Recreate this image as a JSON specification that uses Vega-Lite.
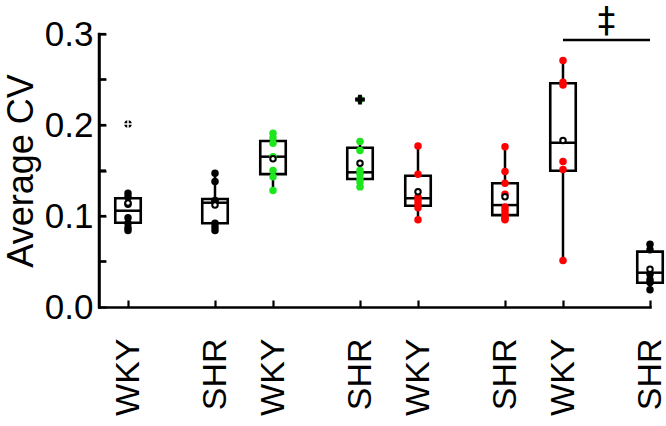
{
  "$schema": "https://vega.github.io/schema/vega-lite/v6.json",
  "width": 551,
  "height": 273,
  "autosize": "none",
  "padding": {"left": 99, "top": 34, "right": 16, "bottom": 119},
  "config": {
    "view": {"stroke": null},
    "font": "Liberation Sans",
    "axis": {
      "grid": false,
      "labelFont": "Liberation Sans",
      "labelFontSize": 35,
      "labelColor": "black",
      "titleFont": "Liberation Sans",
      "titleFontSize": 36,
      "titleFontWeight": "normal",
      "titleColor": "black",
      "domainColor": "black",
      "domainWidth": 2.5,
      "tickColor": "black",
      "tickWidth": 2.2
    },
    "axisX": {"tickSize": -7, "domainCap": "square"},
    "axisY": {"tickSize": -7, "domainCap": "square"}
  },
  "resolve": {"axis": {"y": "independent"}},
  "datasets": {
    "boxes": [
      {"cat": "WKY-1", "q1": 0.0926, "median": 0.1058, "q3": 0.1195, "lo": 0.0838, "hi": 0.125, "mean": 0.1144},
      {"cat": "SHR-1", "q1": 0.092, "median": 0.1146, "q3": 0.1187, "lo": 0.0835, "hi": 0.147, "mean": 0.112},
      {"cat": "WKY-2", "q1": 0.146, "median": 0.1652, "q3": 0.1824, "lo": 0.128, "hi": 0.191, "mean": 0.163},
      {"cat": "SHR-2", "q1": 0.1407, "median": 0.148, "q3": 0.175, "lo": 0.132, "hi": 0.1817, "mean": 0.158},
      {"cat": "WKY-3", "q1": 0.1113, "median": 0.1195, "q3": 0.1443, "lo": 0.0956, "hi": 0.177, "mean": 0.1267},
      {"cat": "SHR-3", "q1": 0.101, "median": 0.112, "q3": 0.136, "lo": 0.0956, "hi": 0.176, "mean": 0.1212},
      {"cat": "WKY-4", "q1": 0.1498, "median": 0.1805, "q3": 0.2458, "lo": 0.0509, "hi": 0.2707, "mean": 0.1829},
      {"cat": "SHR-4", "q1": 0.0267, "median": 0.0377, "q3": 0.0608, "lo": 0.0187, "hi": 0.0689, "mean": 0.0414}
    ],
    "points": [
      {"cat": "WKY-1", "v": 0.125}, {"cat": "WKY-1", "v": 0.121}, {"cat": "WKY-1", "v": 0.113}, {"cat": "WKY-1", "v": 0.098},
      {"cat": "WKY-1", "v": 0.092}, {"cat": "WKY-1", "v": 0.087}, {"cat": "WKY-1", "v": 0.084}, {"cat": "WKY-1", "v": 0.201},
      {"cat": "SHR-1", "v": 0.147}, {"cat": "SHR-1", "v": 0.138}, {"cat": "SHR-1", "v": 0.117}, {"cat": "SHR-1", "v": 0.115},
      {"cat": "SHR-1", "v": 0.092}, {"cat": "SHR-1", "v": 0.088}, {"cat": "SHR-1", "v": 0.084},
      {"cat": "WKY-2", "v": 0.191}, {"cat": "WKY-2", "v": 0.186}, {"cat": "WKY-2", "v": 0.180}, {"cat": "WKY-2", "v": 0.165},
      {"cat": "WKY-2", "v": 0.150}, {"cat": "WKY-2", "v": 0.143}, {"cat": "WKY-2", "v": 0.128},
      {"cat": "SHR-2", "v": 0.182}, {"cat": "SHR-2", "v": 0.172}, {"cat": "SHR-2", "v": 0.150}, {"cat": "SHR-2", "v": 0.146},
      {"cat": "SHR-2", "v": 0.141}, {"cat": "SHR-2", "v": 0.137}, {"cat": "SHR-2", "v": 0.132}, {"cat": "SHR-2", "v": 0.228},
      {"cat": "WKY-3", "v": 0.177}, {"cat": "WKY-3", "v": 0.146}, {"cat": "WKY-3", "v": 0.121}, {"cat": "WKY-3", "v": 0.117},
      {"cat": "WKY-3", "v": 0.113}, {"cat": "WKY-3", "v": 0.109}, {"cat": "WKY-3", "v": 0.096},
      {"cat": "SHR-3", "v": 0.176}, {"cat": "SHR-3", "v": 0.149}, {"cat": "SHR-3", "v": 0.136}, {"cat": "SHR-3", "v": 0.124},
      {"cat": "SHR-3", "v": 0.110}, {"cat": "SHR-3", "v": 0.106}, {"cat": "SHR-3", "v": 0.102}, {"cat": "SHR-3", "v": 0.099},
      {"cat": "SHR-3", "v": 0.097}, {"cat": "SHR-3", "v": 0.096},
      {"cat": "WKY-4", "v": 0.271}, {"cat": "WKY-4", "v": 0.247}, {"cat": "WKY-4", "v": 0.244}, {"cat": "WKY-4", "v": 0.160},
      {"cat": "WKY-4", "v": 0.151}, {"cat": "WKY-4", "v": 0.051},
      {"cat": "SHR-4", "v": 0.069}, {"cat": "SHR-4", "v": 0.063}, {"cat": "SHR-4", "v": 0.036}, {"cat": "SHR-4", "v": 0.030},
      {"cat": "SHR-4", "v": 0.027}, {"cat": "SHR-4", "v": 0.019}
    ],
    "outWhite": [{"cat": "WKY-1", "v": 0.201}],
    "outBlack": [{"cat": "SHR-2", "v": 0.228}],
    "yline": [{"cat": "_0", "lo": 0, "hi": 0.3}],
    "yticks": [
      {"cat": "_0", "v": 0.05}, {"cat": "_0", "v": 0.1}, {"cat": "_0", "v": 0.15},
      {"cat": "_0", "v": 0.2}, {"cat": "_0", "v": 0.25}, {"cat": "_0", "v": 0.3}
    ],
    "sig": [{"cat": "WKY-4", "cat2": "SHR-4", "mid": "_16", "v": 0.2934, "label": "‡"}]
  },
  "encoding": {
    "x": {
      "field": "cat",
      "type": "nominal",
      "title": null,
      "scale": {
        "type": "point",
        "domain": ["_0", "WKY-1", "_1", "_2", "SHR-1", "_4", "WKY-2", "_6", "_7", "SHR-2", "_9", "WKY-3", "_11", "_12", "SHR-3", "_14", "WKY-4", "_16", "_17", "SHR-4"],
        "padding": 0
      },
      "axis": {
        "values": ["WKY-1", "SHR-1", "WKY-2", "SHR-2", "WKY-3", "SHR-3", "WKY-4", "SHR-4"],
        "labelExpr": "split(datum.label, '-')[0]",
        "labelAngle": -90,
        "labelPadding": 38,
        "labelFontSize": 34,
        "labelOverlap": false
      }
    }
  },
  "layer": [
    {
      "data": {"name": "yline"},
      "mark": {"type": "rule", "color": "black", "strokeWidth": 2.5, "strokeCap": "square"},
      "encoding": {
        "y": {"field": "lo", "type": "quantitative", "title": "Average CV", "scale": {"domain": [0, 0.3], "nice": false, "zero": true}, "axis": null},
        "y2": {"field": "hi"}
      }
    },
    {
      "data": {"name": "yticks"},
      "mark": {"type": "tick", "orient": "horizontal", "size": 7, "thickness": 2.2, "xOffset": 3.5, "color": "black", "opacity": 1},
      "encoding": {
        "y": {"field": "v", "type": "quantitative", "title": "Average CV", "axis": null}
      }
    },
    {
      "data": {"name": "boxes"},
      "mark": {"type": "rule", "color": "black", "strokeWidth": 2.5},
      "encoding": {
        "y": {"field": "lo", "type": "quantitative", "title": "Average CV", "axis": null},
        "y2": {"field": "hi"}
      }
    },
    {
      "data": {"name": "boxes"},
      "mark": {"type": "bar", "size": 25.5, "fill": "white", "stroke": "black", "strokeWidth": 2.6},
      "encoding": {
        "y": {"field": "q1", "type": "quantitative", "title": "Average CV", "axis": null},
        "y2": {"field": "q3"}
      }
    },
    {
      "data": {"name": "boxes"},
      "mark": {"type": "tick", "size": 25.5, "thickness": 2.5, "color": "black", "opacity": 1},
      "encoding": {
        "y": {"field": "median", "type": "quantitative", "title": "Average CV", "axis": null}
      }
    },
    {
      "data": {"name": "points"},
      "mark": {"type": "point", "shape": "circle", "filled": true, "size": 56, "opacity": 1},
      "encoding": {
        "y": {
          "field": "v", "type": "quantitative", "title": "Average CV",
          "scale": {"domain": [0, 0.3], "nice": false, "zero": true},
          "axis": {
            "orient": "left",
            "zindex": 1,
            "values": [0, 0.05, 0.1, 0.15, 0.2, 0.25, 0.3],
            "labelExpr": "round(datum.value * 20) % 2 == 0 ? format(datum.value, '.1f') : ''",
            "labelPadding": 13,
            "titlePadding": 4
          }
        },
        "color": {
          "field": "cat", "type": "nominal", "legend": null,
          "scale": {
            "domain": ["WKY-1", "SHR-1", "WKY-2", "SHR-2", "WKY-3", "SHR-3", "WKY-4", "SHR-4"],
            "range": ["#000000", "#000000", "#1ee61e", "#1ee61e", "#ff0000", "#ff0000", "#ff0000", "#000000"]
          }
        }
      }
    },
    {
      "data": {"name": "outWhite"},
      "mark": {"type": "point", "shape": "M-1,-0.18H-0.18V-1H0.18V-0.18H1V0.18H0.18V1H-0.18V0.18H-1Z", "filled": true, "color": "white", "size": 70, "opacity": 1},
      "encoding": {
        "y": {"field": "v", "type": "quantitative", "title": "Average CV", "axis": null}
      }
    },
    {
      "data": {"name": "outBlack"},
      "mark": {"type": "point", "shape": "cross", "filled": true, "color": "black", "size": 95, "opacity": 1},
      "encoding": {
        "y": {"field": "v", "type": "quantitative", "title": "Average CV", "axis": null}
      }
    },
    {
      "data": {"name": "boxes"},
      "mark": {"type": "point", "shape": "circle", "fill": "white", "stroke": "black", "strokeWidth": 2, "size": 30, "opacity": 1},
      "encoding": {
        "y": {"field": "mean", "type": "quantitative", "title": "Average CV", "axis": null}
      }
    },
    {
      "data": {"name": "sig"},
      "mark": {"type": "rule", "color": "black", "strokeWidth": 2.5},
      "encoding": {
        "x2": {"field": "cat2"},
        "y": {"field": "v", "type": "quantitative", "title": "Average CV", "axis": null}
      }
    },
    {
      "data": {"name": "sig"},
      "mark": {"type": "text", "font": "DejaVu Sans", "fontSize": 35, "color": "black", "baseline": "alphabetic", "align": "center", "dx": 14.5, "dy": -8},
      "encoding": {
        "x": {"field": "mid", "type": "nominal", "title": null},
        "y": {"field": "v", "type": "quantitative", "title": "Average CV", "axis": null},
        "text": {"field": "label"}
      }
    }
  ]
}
